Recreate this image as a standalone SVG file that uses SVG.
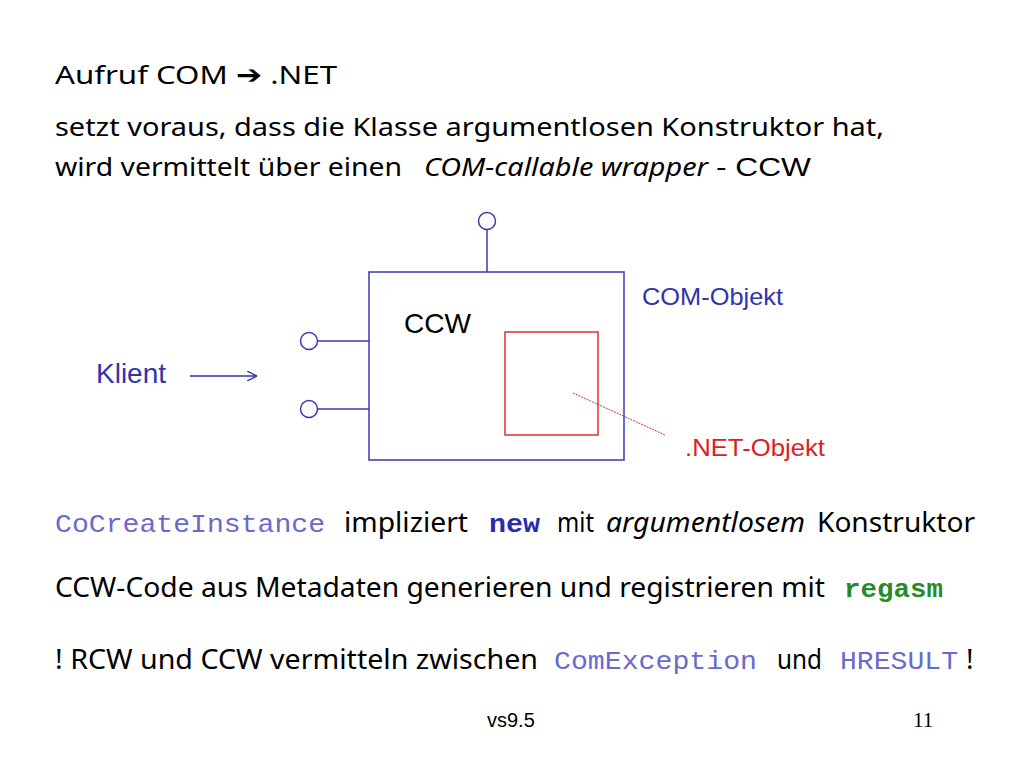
<svg xmlns="http://www.w3.org/2000/svg" width="1024" height="768" viewBox="0 0 1024 768">
<defs>
<marker id="arr" viewBox="0 0 10 10" refX="10" refY="5" markerWidth="10" markerHeight="10" markerUnits="userSpaceOnUse" orient="auto">
<path d="M0,0 L10,5 L0,10" fill="none" stroke="#3333aa" stroke-width="1.4"/>
</marker>
<style>
.t{font-family:"Noto Sans","Liberation Sans",sans-serif;fill:#000;}
.it{font-style:italic;}
.s{font-family:"Liberation Sans",Arial,sans-serif;}
.m{font-family:"Liberation Mono","Courier New",monospace;}
.blue{stroke:#3a3ab0;stroke-width:1.5;fill:none;}
</style>
</defs>
<rect width="1024" height="768" fill="#fff"/>

<g id="header">
<text class="t" x="55" y="84" font-size="26" textLength="282" lengthAdjust="spacingAndGlyphs">Aufruf COM <tspan font-family="'DejaVu Sans',sans-serif" font-weight="bold">➔</tspan> .NET</text>
<text class="t" x="55" y="136" font-size="26" textLength="829" lengthAdjust="spacingAndGlyphs">setzt voraus, dass die Klasse argumentlosen Konstruktor hat,</text>
<text class="t" x="55" y="176" font-size="26" textLength="347" lengthAdjust="spacingAndGlyphs">wird vermittelt über einen</text>
<text class="t it" x="424" y="176" font-size="26" textLength="284" lengthAdjust="spacingAndGlyphs">COM-callable wrapper</text>
<text class="s" x="716" y="176" font-size="25" textLength="95" lengthAdjust="spacingAndGlyphs">- CCW</text>
</g>

<g id="connectors">
<line class="blue" x1="487" y1="230" x2="487" y2="272"/>
<line class="blue" x1="318" y1="341" x2="369" y2="341"/>
<line class="blue" x1="318" y1="409" x2="369" y2="409"/>
<line x1="190" y1="376" x2="257" y2="376" stroke="#3333aa" stroke-width="1.6" marker-end="url(#arr)"/>
<line x1="573" y1="393" x2="665" y2="435" stroke="#cc3333" stroke-width="1" stroke-dasharray="2,1"/>
</g>

<g id="ccw">
<rect class="blue" x="369" y="272" width="255" height="188"/>
<text class="s" x="404" y="333" font-size="28" fill="#000" textLength="67" lengthAdjust="spacingAndGlyphs">CCW</text>
</g>
<g id="iface-top"><circle class="blue" cx="487" cy="221" r="8.5" fill="#fff"/></g>
<g id="iface-left1"><circle class="blue" cx="309" cy="341" r="8.5" fill="#fff"/></g>
<g id="iface-left2"><circle class="blue" cx="309" cy="409" r="8.5" fill="#fff"/></g>
<g id="net-objekt">
<rect x="505" y="332" width="93" height="103" fill="none" stroke="#e03030" stroke-width="1.5"/>
</g>
<g id="label-com"><text class="s" x="642" y="305" font-size="24" fill="#3333aa" textLength="141" lengthAdjust="spacingAndGlyphs">COM-Objekt</text></g>
<g id="label-net"><text class="s" x="685" y="456" font-size="24" fill="#e02020" textLength="140" lengthAdjust="spacingAndGlyphs">.NET-Objekt</text></g>
<g id="klient"><text class="s" x="96" y="383" font-size="28" fill="#3333aa" textLength="70" lengthAdjust="spacingAndGlyphs">Klient</text></g>

<g id="bottom">
<text class="m" x="55" y="532" font-size="26" fill="#6a6acc" textLength="270" lengthAdjust="spacingAndGlyphs">CoCreateInstance</text>
<text class="t" x="344" y="532" font-size="28" textLength="124" lengthAdjust="spacingAndGlyphs">impliziert</text>
<text class="m" x="489" y="532" font-size="26" font-weight="bold" fill="#2a2aaa" textLength="51" lengthAdjust="spacingAndGlyphs">new</text>
<text class="t" x="557" y="532" font-size="28" textLength="37" lengthAdjust="spacingAndGlyphs">mit</text>
<text class="t it" x="606" y="532" font-size="28" textLength="199" lengthAdjust="spacingAndGlyphs">argumentlosem</text>
<text class="t" x="817" y="532" font-size="28" textLength="158" lengthAdjust="spacingAndGlyphs">Konstruktor</text>

<text class="t" x="55" y="597" font-size="28" textLength="770" lengthAdjust="spacingAndGlyphs">CCW-Code aus Metadaten generieren und registrieren mit</text>
<text class="m" x="844" y="597" font-size="26" font-weight="bold" fill="#2a8a2a" textLength="99" lengthAdjust="spacingAndGlyphs">regasm</text>

<text class="t" x="55" y="669" font-size="28" textLength="483" lengthAdjust="spacingAndGlyphs">! RCW und CCW vermitteln zwischen</text>
<text class="m" x="554" y="669" font-size="26" fill="#6a6acc" textLength="203" lengthAdjust="spacingAndGlyphs">ComException</text>
<text class="t" x="777" y="669" font-size="28" textLength="45" lengthAdjust="spacingAndGlyphs">und</text>
<text class="m" x="840" y="669" font-size="26" fill="#6a6acc" textLength="118" lengthAdjust="spacingAndGlyphs">HRESULT</text>
<text class="t" x="966" y="669" font-size="28">!</text>
</g>

<g id="footer">
<text class="s" x="487" y="727" font-size="20" fill="#000">vs9.5</text>
<text x="913" y="727" font-size="21" font-family="'Liberation Serif','Times New Roman',serif" fill="#000">11</text>
</g>
</svg>
